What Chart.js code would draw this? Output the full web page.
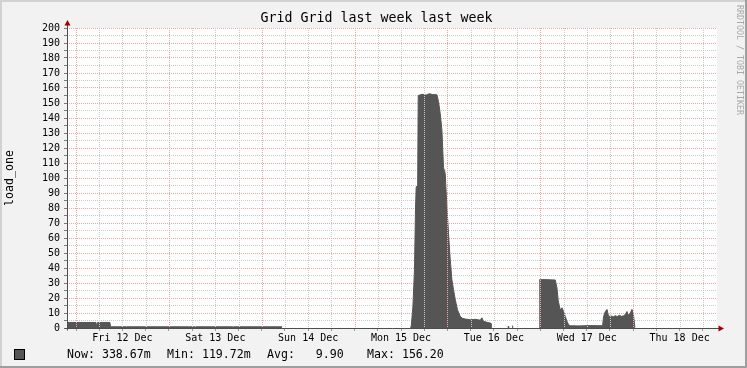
<!DOCTYPE html>
<html>
<head>
<meta charset="utf-8">
<script src="https://cdn.jsdelivr.net/npm/chart.js@4/dist/chart.umd.min.js"></script>
<style>
html,body{margin:0;padding:0;background:#f2f2f2;}
canvas{display:block;}
</style>
</head>
<body>
<canvas id="c" width="747" height="368"></canvas>
<script>
// ---- chart data ----
const TITLE = "Grid Grid last week last week";
const Y_TITLE = "load_one";
const WATERMARK = "RRDTOOL / TOBI OETIKER";
// x labels, one per day (centered at noon); hours counted from Fri 12 Dec 00:00
const DAY_LABELS = ["Fri 12 Dec", "Sat 13 Dec", "Sun 14 Dec", "Mon 15 Dec", "Tue 16 Dec", "Wed 17 Dec", "Thu 18 Dec"];
const X_MIN = -2.33;   // start of the week window (hours)
const X_MAX = 165.67;  // end of the week window (hours)
const Y_MIN = 0;
const Y_MAX = 200;
// sample times (hours since Fri 12 Dec 00:00) and load_one values; null = unknown
const HOURS = [
  -2.07, 5.15, 5.35, 5.55, 8.75, 8.95, 13.0, 13.1, 13.2, 18.0, 18.1, 18.2, 29.1, 29.2, 29.3,
  30.7, 30.8, 30.9, 40.5, 40.6, 40.7, 53.27, 53.5,
  86.37, 86.63, 87.07, 87.48, 87.75, 87.92, 88.3, 88.45, 89.5, 90.5, 91.3, 92.2, 93.28,
  93.69, 94.13, 94.57, 94.98, 95.42, 95.86, 96.28, 96.72, 97.16, 97.57, 98.01, 98.61,
  99.30, 99.82, 100.60, 101.89, 103.18, 104.48, 104.9, 105.3, 106.21, 107.06, 107.50, 107.7,
  111.6, 111.75, 112.0, 112.3, 112.7, 113.0, 113.2,
  119.7, 119.99, 121.0, 122.5, 123.87, 124.31, 124.64, 125.16, 125.60, 126.02, 126.46,
  126.90, 127.31, 127.75, 130.0, 133.0, 136.1, 136.36, 136.80, 137.24, 137.66, 138.36,
  138.88, 139.39, 139.91, 140.42, 140.94, 141.45, 141.97, 142.41, 142.75, 143.26, 143.70,
  144.12, 144.45
];
const LOAD = [
  3.7, 3.7, 0.9, 3.7, 3.7, 0.8, 0.8, 0.3, 0.8, 0.8, 0.3, 0.8, 0.8, 0.3, 0.8,
  0.8, 0.3, 0.8, 0.8, 0.3, 0.8, 0.8, null,
  0.5, 1, 14, 39, 80, 94, 95, 155, 155.8, 155.3, 156.2, 155.6, 155.5,
  151, 143, 132, 107, 103, 81, 63, 45.5, 32, 25.5, 19, 12,
  7.8, 6.5, 6, 5.5, 5.8, 5.2, 6.8, 4.5, 3.8, 3.3, 2.5, null,
  0.4, 1.3, 0.5, null, 1.5, 0.9, null,
  32, 32.2, 32.3, 32.1, 32, 26.7, 18, 12, 13.5, 11, 7.7,
  4.4, 2.2, 1.5, 1.4, 1.6, 1.5, 7.7, 11, 12.4, 7.7, 8,
  7.5, 8.2, 7.6, 8.5, 7.8, 8, 9, 11, 8.5, 10, 12.4,
  8, 0.34
];
const STAT_NAMES = ["Now", "Min", "Avg", "Max"];
const STAT_VALUES = ["338.67m", "119.72m", "9.90", "156.20"];

// ---- styles ----
const FONT = "DejaVu Sans Mono";
const AREA_COLOR = "#555555";
const MAJOR_GRID = "#eca4a4";
const MINOR_GRID = "#cacaca";
const AXIS_COLOR = "#4d4d4d";
const ARROW_COLOR = "#a00000";

const points = HOURS.map((h, i) => ({ x: h, y: LOAD[i] }));

const rrdPlugin = {
  id: "rrdFrame",
  beforeDraw(chart) {
    const { ctx, width, height, chartArea: a } = chart;
    ctx.save();
    ctx.fillStyle = "#f2f2f2";
    ctx.fillRect(0, 0, width, height);
    ctx.fillStyle = "#d2d2d2";
    ctx.fillRect(0, 0, width, 2);
    ctx.fillRect(0, 0, 2, height);
    ctx.fillStyle = "#9e9e9e";
    ctx.fillRect(0, height - 2, width, 2);
    ctx.fillRect(width - 2, 0, 2, height);
    ctx.fillStyle = "#ffffff";
    ctx.fillRect(a.left, a.top, a.right - a.left, a.bottom - a.top);
    ctx.restore();
  },
  afterDatasetsDraw(chart) {
    const { ctx, chartArea: a } = chart;
    const xs = chart.scales.x;
    ctx.save();
    // vertical grid drawn over the data, like rrdtool
    ctx.lineWidth = 1;
    ctx.setLineDash([1, 1]);
    xs.ticks.forEach(t => {
      const px = Math.round(xs.getPixelForValue(t.value)) + 0.5;
      ctx.strokeStyle = (((t.value % 24) + 24) % 24 === 0) ? MAJOR_GRID : MINOR_GRID;
      ctx.beginPath();
      ctx.moveTo(px, a.top);
      ctx.lineTo(px, a.bottom);
      ctx.stroke();
    });
    ctx.setLineDash([]);
    // axes
    const x0 = Math.round(a.left) + 0.5;
    const y0 = Math.round(a.bottom) + 0.5;
    ctx.strokeStyle = AXIS_COLOR;
    ctx.beginPath();
    ctx.moveTo(x0, y0 + 2);
    ctx.lineTo(x0, a.top - 6);
    ctx.moveTo(x0 - 3, y0);
    ctx.lineTo(a.right + 3, y0);
    ctx.stroke();
    // arrows
    ctx.fillStyle = ARROW_COLOR;
    ctx.beginPath();
    ctx.moveTo(x0, a.top - 8);
    ctx.lineTo(x0 - 3, a.top - 2.5);
    ctx.lineTo(x0 + 3, a.top - 2.5);
    ctx.closePath();
    ctx.fill();
    ctx.beginPath();
    ctx.moveTo(a.right + 7, y0);
    ctx.lineTo(a.right + 1.5, y0 - 3);
    ctx.lineTo(a.right + 1.5, y0 + 3);
    ctx.closePath();
    ctx.fill();
    ctx.restore();
  },
  afterDraw(chart) {
    const { ctx, width } = chart;
    ctx.save();
    // legend
    ctx.fillStyle = AREA_COLOR;
    ctx.fillRect(15, 350, 10, 10);
    ctx.strokeStyle = "#000";
    ctx.lineWidth = 1;
    ctx.strokeRect(14.5, 349.5, 10, 10);
    ctx.fillStyle = "#000";
    ctx.font = "11.6px '" + FONT + "'";
    ctx.textBaseline = "middle";
    ctx.textAlign = "left";
    STAT_NAMES.forEach((n, i) => {
      ctx.fillText(n + ": " + STAT_VALUES[i].padStart(6, " "), 67 + i * 100, 355);
    });
    // watermark
    ctx.translate(width - 8, 5);
    ctx.rotate(Math.PI / 2);
    ctx.font = "8.3px '" + FONT + "'";
    ctx.fillStyle = "#a8a8a8";
    ctx.textBaseline = "middle";
    ctx.fillText(WATERMARK, 0, 0);
    ctx.restore();
  }
};

Chart.defaults.font.family = FONT;
Chart.defaults.color = "#000";

new Chart(document.getElementById("c"), {
  type: "line",
  data: {
    datasets: [{
      label: Y_TITLE,
      data: points,
      fill: "origin",
      backgroundColor: AREA_COLOR,
      borderColor: AREA_COLOR,
      borderWidth: 1,
      pointRadius: 0,
      tension: 0,
      spanGaps: false
    }]
  },
  options: {
    responsive: false,
    animation: false,
    devicePixelRatio: 1,
    layout: { padding: { left: 6, right: 0, top: 0, bottom: 0 } },
    plugins: {
      legend: { display: false },
      tooltip: { enabled: false },
      title: {
        display: true,
        text: TITLE,
        color: "#000",
        font: { family: FONT, size: 13.3, weight: "normal", lineHeight: "14px" },
        padding: { top: 12, bottom: 2 }
      }
    },
    scales: {
      x: {
        type: "linear",
        min: X_MIN,
        max: X_MAX,
        afterBuildTicks(scale) {
          const t = [];
          for (let v = Math.ceil(X_MIN / 6) * 6; v <= X_MAX; v += 6) t.push({ value: v + 0 });
          scale.ticks = t;
        },
        afterFit(scale) { scale.height = 40; },
        ticks: {
          autoSkip: false,
          maxRotation: 0,
          minRotation: 0,
          padding: 1,
          color: "#000",
          font: { family: FONT, size: 10 },
          callback(value) {
            const r = ((value % 24) + 24) % 24;
            if (r === 12) {
              const lbl = DAY_LABELS[(value - 12) / 24];
              return lbl === undefined ? "" : lbl;
            }
            return "";
          }
        },
        grid: {
          drawOnChartArea: false,
          drawTicks: true,
          tickLength: 3,
          tickColor: "#9a9a9a"
        },
        border: { display: false }
      },
      y: {
        type: "linear",
        position: "left",
        min: Y_MIN,
        max: Y_MAX,
        afterFit(scale) { scale.width = 61; },
        ticks: {
          stepSize: 5,
          maxTicksLimit: 100,
          autoSkip: false,
          padding: 4,
          color: "#000",
          font: { family: FONT, size: 10 },
          callback(value) { return value % 10 === 0 ? String(value) : ""; }
        },
        grid: {
          color: ctx => (ctx.tick && ctx.tick.value % 10 === 0) ? MAJOR_GRID : MINOR_GRID,
          lineWidth: 1,
          drawTicks: true,
          tickLength: 3,
          tickColor: "#7a7a7a"
        },
        border: { display: false, dash: [1, 1] },
        title: {
          display: true,
          text: Y_TITLE,
          color: "#000",
          font: { family: FONT, size: 11.6, lineHeight: 0.7 },
          padding: { top: 0, bottom: 0 }
        }
      },
      yr: {
        type: "linear",
        position: "right",
        display: true,
        afterFit(scale) { scale.width = 30; },
        ticks: { display: false },
        grid: { display: false, drawTicks: false },
        border: { display: false }
      }
    }
  },
  plugins: [rrdPlugin]
});
</script>
</body>
</html>
